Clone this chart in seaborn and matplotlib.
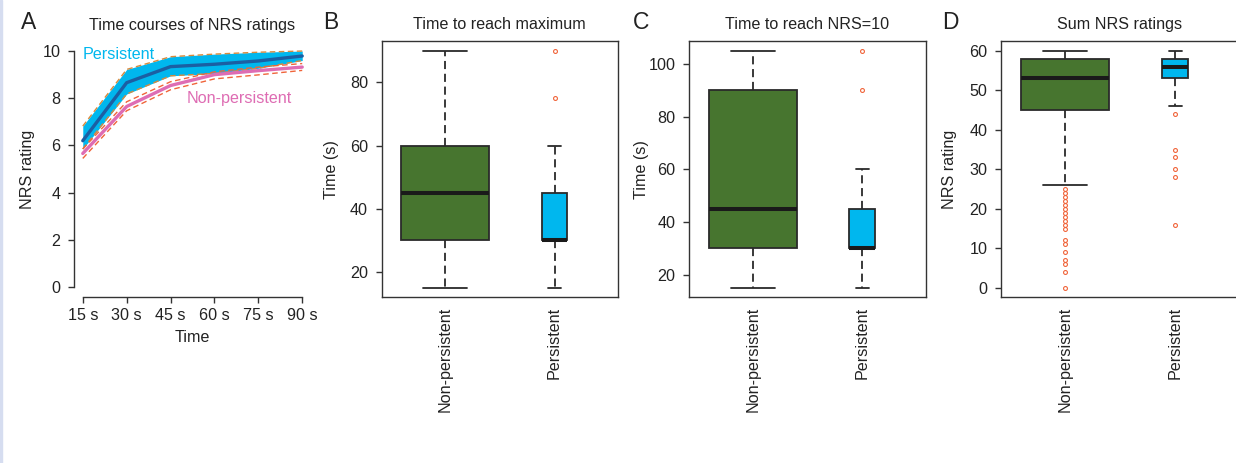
import matplotlib
matplotlib.use("Agg")
import matplotlib.pyplot as plt
import seaborn as sns
import pandas as pd
from matplotlib.patches import Rectangle

# ---------------- data ----------------
time_s = [15, 30, 45, 60, 75, 90]
time_labels = ["15 s", "30 s", "45 s", "60 s", "75 s", "90 s"]

persistent_mean = [6.20, 8.66, 9.34, 9.44, 9.58, 9.79]
persistent_upper = [6.82, 9.22, 9.76, 9.87, 9.95, 10.0]
persistent_lower = [5.85, 8.18, 8.95, 9.05, 9.27, 9.60]
nonpersistent_mean = [5.66, 7.65, 8.54, 9.00, 9.17, 9.32]
nonpersistent_upper = [5.85, 7.85, 8.70, 9.12, 9.32, 9.47]
nonpersistent_lower = [5.45, 7.47, 8.36, 8.82, 8.99, 9.18]

groups = ["Non-persistent", "Persistent"]

# B: time to reach maximum (s)
b_nonpersistent = [15, 30, 30, 45, 60, 60, 90]
b_persistent = [15, 30, 30, 30, 30, 30, 30, 45, 45, 45, 60, 75, 90]

# C: time to reach NRS=10 (s)
c_nonpersistent = [15, 30, 30, 45, 90, 90, 105]
c_persistent = [15, 30, 30, 30, 30, 30, 30, 45, 45, 45, 60, 90, 105]

# D: sum NRS ratings
d_nonpersistent = [0, 4, 6, 7, 9, 11, 12, 15, 16, 17, 18, 19, 20, 21, 22, 23, 24, 25,
                   26, 45,
                   46, 47, 48, 48, 49, 49, 50, 50, 50, 51, 51, 51, 52, 52, 52, 52, 53, 53,
                   53,
                   53, 54, 54, 54, 55, 55, 55, 55, 56, 56, 56, 56, 57, 57, 57, 57, 58, 58,
                   58,
                   58, 58, 58, 59, 59, 59, 59, 59, 59, 59, 60, 60, 60, 60, 60, 60, 60, 60, 60]
d_persistent = [16, 28, 30, 33, 35, 44, 46, 53, 54, 54, 55, 55, 55, 56, 56,
                56, 57, 57, 57, 57, 58, 58, 58, 59, 59, 59, 60, 60, 60]

# ---------------- style ----------------
GREEN = "#47752F"
CYAN = "#00B7EE"
DARKBLUE = "#1B5FA3"
PINK = "#DE6CB3"
ORANGE_P = "#D98A3C"
ORANGE_NP = "#F0643A"
OUTLIER = "#F0643A"
EDGE = "#2a2a2a"
TXT = "#222222"
FS = 11.6

sns.set_style("ticks")
plt.rcParams["font.family"] = ["Liberation Sans", "DejaVu Sans"]
plt.rcParams["font.size"] = FS
plt.rcParams["text.color"] = TXT
plt.rcParams["axes.labelcolor"] = TXT
plt.rcParams["xtick.color"] = "#333333"
plt.rcParams["ytick.color"] = "#333333"
plt.rcParams["xtick.labelcolor"] = TXT
plt.rcParams["ytick.labelcolor"] = TXT

W, H = 1236, 463
fig = plt.figure(figsize=(W / 100, H / 100), dpi=100)
fig.patches.append(Rectangle((0, 0), 2.0 / W, 1, transform=fig.transFigure,
                             color="#D6DDF0", zorder=0))


def add_axes(l, r, t, b):
    return fig.add_axes([l / W, 1 - b / H, (r - l) / W, (b - t) / H])


# ---------------- panel A ----------------
axA = add_axes(74, 311, 41.6, 296.5)
axA.fill_between(time_s, persistent_lower, persistent_upper, color=CYAN, lw=0, zorder=1)

def line(ax, y, color, lw, ls, z):
    df = pd.DataFrame({"t": time_s, "v": y})
    sns.lineplot(data=df, x="t", y="v", color=color, linewidth=lw, linestyle=ls,
                 ax=ax, zorder=z, legend=False)

line(axA, persistent_upper, ORANGE_P, 1.0, (0, (4, 2.5)), 2)
line(axA, persistent_lower, ORANGE_P, 1.0, (0, (4, 2.5)), 2)
line(axA, nonpersistent_upper, ORANGE_NP, 1.0, (0, (4, 2.5)), 2)
line(axA, nonpersistent_lower, ORANGE_NP, 1.0, (0, (4, 2.5)), 2)
line(axA, nonpersistent_mean, PINK, 2.4, "-", 3)
line(axA, persistent_mean, DARKBLUE, 2.4, "-", 4)

axA.set_xlim(12, 93)
axA.set_ylim(-0.4, 10.4)
axA.set_xticks(time_s)
axA.set_xticklabels(time_labels)
axA.set_yticks([0, 2, 4, 6, 8, 10])
for s in ["top", "right"]:
    axA.spines[s].set_visible(False)
axA.spines["left"].set_bounds(0, 10)
axA.spines["bottom"].set_bounds(15, 90)
for s in ["left", "bottom"]:
    axA.spines[s].set_color("#333333")
    axA.spines[s].set_linewidth(1.0)
axA.tick_params(axis="y", length=4, width=1, pad=5.8)
axA.tick_params(axis="x", length=4, width=1, pad=4.3)
axA.set_xlabel("Time")
axA.set_ylabel("NRS rating")
axA.xaxis.set_label_coords(0.5, -0.131)
axA.xaxis.label.set_va("top")
axA.yaxis.set_label_coords(-0.165, 0.5)
axA.set_title("Time courses of NRS ratings", fontsize=FS, pad=8.5)
axA.text(14.8, 9.66, "Persistent", color=CYAN, fontsize=FS, ha="left", va="baseline", zorder=5)
axA.text(50.5, 7.81, "Non-persistent", color=PINK, fontsize=FS, ha="left", va="baseline", zorder=5)


# ---------------- box panels ----------------
def box_panel(l, r, np_vals, p_vals, ylim, yticks, ylabel, title, ylab_x):
    ax = add_axes(l, r, 41.3, 297.3)
    common = dict(x="group", y="value", order=groups, linecolor=EDGE, linewidth=1.3,
                  whis=1.5, saturation=1,
                  whiskerprops=dict(linestyle=(0, (4.5, 2.6))),
                  medianprops=dict(linewidth=2.9, color="#1a1a1a"),
                  flierprops=dict(marker="o", markerfacecolor="none",
                                  markeredgecolor=OUTLIER, markersize=2.8,
                                  markeredgewidth=0.8),
                  ax=ax)
    sns.boxplot(data=pd.DataFrame({"group": groups[0], "value": np_vals}),
                width=0.8, color=GREEN, **common)
    sns.boxplot(data=pd.DataFrame({"group": groups[1], "value": p_vals}),
                width=0.235, color=CYAN, **common)
    ax.set_xlim(-0.58, 1.58)
    ax.set_ylim(*ylim)
    ax.set_yticks(yticks)
    ax.set_xticks([0, 1])
    ax.set_xticklabels(groups, rotation=90)
    for s in ax.spines.values():
        s.set_visible(True)
        s.set_color("#333333")
        s.set_linewidth(1.0)
    ax.tick_params(axis="y", length=4, width=1, pad=5.8)
    ax.tick_params(axis="x", length=0, pad=7)
    ax.set_xlabel("")
    ax.set_ylabel(ylabel)
    ax.yaxis.set_label_coords(ylab_x, 0.5)
    ax.set_title(title, fontsize=FS, pad=8.5)
    return ax

box_panel(381.7, 618, b_nonpersistent, b_persistent, (12, 93), [20, 40, 60, 80],
          "Time (s)", "Time to reach maximum", -0.179)
box_panel(689, 926, c_nonpersistent, c_persistent, (11.4, 108.6), [20, 40, 60, 80, 100],
          "Time (s)", "Time to reach NRS=10", -0.1675)
box_panel(1001, 1239, d_nonpersistent, d_persistent, (-2.4, 62.4), [0, 10, 20, 30, 40, 50, 60],
          "NRS rating", "Sum NRS ratings", -0.186)

# panel letters
for x, letter in [(21, "A"), (323.3, "B"), (633.3, "C"), (941.7, "D")]:
    fig.text(x / W, 1 - 29.3 / H, letter, fontsize=16.5, ha="left", va="baseline", color=TXT)

fig.savefig("out.png", dpi=100)
